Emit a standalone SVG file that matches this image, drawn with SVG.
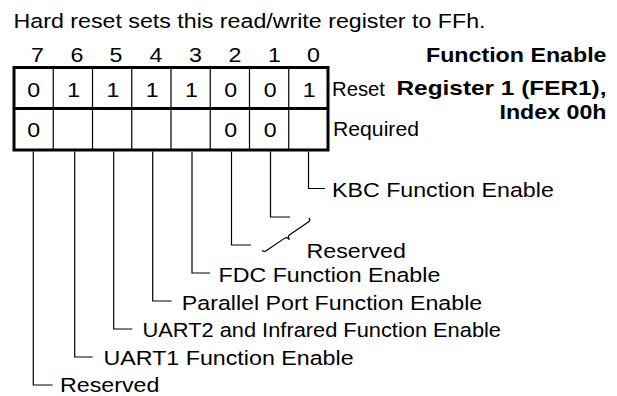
<svg xmlns="http://www.w3.org/2000/svg" width="617" height="396" viewBox="0 0 617 396">
<style>
text{font-family:"Liberation Sans",Arial,sans-serif;fill:#000}
.t{font-size:20.5px}
.d{font-size:20.5px;text-anchor:middle}
.b{font-size:21px;font-weight:bold;text-anchor:end}
.thick{fill:none;stroke:#000;stroke-width:3}
.thin{fill:none;stroke:#000;stroke-width:1.2}
.lead{fill:none;stroke:#000;stroke-width:1.2}
</style>
<rect width="617" height="396" fill="#fff"/>
<g id="title"><text class="t" x="13.5" y="27.5" textLength="472" lengthAdjust="spacingAndGlyphs">Hard reset sets this read/write register to FFh.</text></g>
<g id="caption">
<text class="b" x="606.5" y="62" textLength="180.5" lengthAdjust="spacingAndGlyphs">Function Enable</text>
<text class="b" x="606.5" y="95" textLength="210" lengthAdjust="spacingAndGlyphs">Register 1 (FER1),</text>
<text class="b" x="606.5" y="119" textLength="107" lengthAdjust="spacingAndGlyphs">Index 00h</text>
</g>
<g id="register">
<g id="bitnums">
<text class="d" x="37.5" y="62" textLength="12.9" lengthAdjust="spacingAndGlyphs">7</text>
<text class="d" x="77" y="62" textLength="12.9" lengthAdjust="spacingAndGlyphs">6</text>
<text class="d" x="116" y="62" textLength="12.9" lengthAdjust="spacingAndGlyphs">5</text>
<text class="d" x="156" y="62" textLength="12.9" lengthAdjust="spacingAndGlyphs">4</text>
<text class="d" x="195.5" y="62" textLength="12.9" lengthAdjust="spacingAndGlyphs">3</text>
<text class="d" x="235" y="62" textLength="12.9" lengthAdjust="spacingAndGlyphs">2</text>
<text class="d" x="274.5" y="62" textLength="12.9" lengthAdjust="spacingAndGlyphs">1</text>
<text class="d" x="313.5" y="62" textLength="12.9" lengthAdjust="spacingAndGlyphs">0</text>
</g>
<path class="thin" d="M53.25,67.5V150M92.5,67.5V150M131.75,67.5V150M171,67.5V150M210.25,67.5V150M249.5,67.5V150M288.75,67.5V150"/>
<rect class="thick" x="14" y="67.5" width="314" height="82.5"/>
<path class="thick" d="M14,108.5H328"/>
<g id="reset">
<text class="d" x="33.8" y="96.5" textLength="12.9" lengthAdjust="spacingAndGlyphs">0</text>
<text class="d" x="73.8" y="96.5" textLength="12.9" lengthAdjust="spacingAndGlyphs">1</text>
<text class="d" x="113" y="96.5" textLength="12.9" lengthAdjust="spacingAndGlyphs">1</text>
<text class="d" x="152.3" y="96.5" textLength="12.9" lengthAdjust="spacingAndGlyphs">1</text>
<text class="d" x="191.5" y="96.5" textLength="12.9" lengthAdjust="spacingAndGlyphs">1</text>
<text class="d" x="230.6" y="96.5" textLength="12.9" lengthAdjust="spacingAndGlyphs">0</text>
<text class="d" x="270.3" y="96.5" textLength="12.9" lengthAdjust="spacingAndGlyphs">0</text>
<text class="d" x="309.3" y="96.5" textLength="12.9" lengthAdjust="spacingAndGlyphs">1</text>
</g>
<g id="required">
<text class="d" x="33.8" y="136.5" textLength="12.9" lengthAdjust="spacingAndGlyphs">0</text>
<text class="d" x="230.6" y="136.5" textLength="12.9" lengthAdjust="spacingAndGlyphs">0</text>
<text class="d" x="270.3" y="136.5" textLength="12.9" lengthAdjust="spacingAndGlyphs">0</text>
</g>
<text class="t" x="332" y="96" textLength="53" lengthAdjust="spacingAndGlyphs">Reset</text>
<text class="t" x="333" y="136" textLength="86" lengthAdjust="spacingAndGlyphs">Required</text>
</g>
<g id="connectors">
<path class="lead" d="M308.5,151.5V188.5H325"/>
<path class="lead" d="M270.5,151.5V217H290"/>
<path class="lead" d="M231.5,151.5V245H251"/>
<path class="lead" d="M192,151.5V273H210"/>
<path class="lead" d="M152.7,151.5V301H171.7"/>
<path class="lead" d="M113.7,151.5V329H132.3"/>
<path class="lead" d="M74.7,151.5V357H92.7"/>
<path class="lead" d="M33.3,151.5V385H52.7"/>
<path class="lead" transform="translate(262,250) rotate(-34.25)" d="M0,0Q0,3 3,3L25.5,3Q28.5,3 28.5,7Q28.5,3 31.5,3L54,3Q57,3 57,0"/>
</g>
<g id="labels">
<text class="t" x="332" y="197" textLength="221.8" lengthAdjust="spacingAndGlyphs">KBC Function Enable</text>
<text class="t" x="306.5" y="257.5" textLength="99.3" lengthAdjust="spacingAndGlyphs">Reserved</text>
<text class="t" x="218.5" y="281.5" textLength="221.8" lengthAdjust="spacingAndGlyphs">FDC Function Enable</text>
<text class="t" x="181.8" y="309.5" textLength="300.4" lengthAdjust="spacingAndGlyphs">Parallel Port Function Enable</text>
<text class="t" x="142.5" y="337" textLength="358.5" lengthAdjust="spacingAndGlyphs">UART2 and Infrared Function Enable</text>
<text class="t" x="103.5" y="364.5" textLength="250.1" lengthAdjust="spacingAndGlyphs">UART1 Function Enable</text>
<text class="t" x="60" y="392" textLength="99.3" lengthAdjust="spacingAndGlyphs">Reserved</text>
</g>
</svg>
